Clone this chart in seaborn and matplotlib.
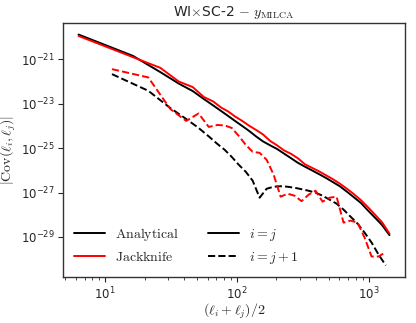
import numpy as np
import pandas as pd
import matplotlib
matplotlib.use("Agg")
import matplotlib.pyplot as plt
import seaborn as sns
from matplotlib.lines import Line2D

# bin centres (ell) of the diagonal
ell = [6.3, 16.3, 26.3, 36.3, 46.3, 56.3, 66.3, 76, 86, 97, 110, 124, 140, 158,
       179, 202, 228, 258, 291, 329, 372, 420, 475, 537, 606, 685, 774, 875,
       989, 1117, 1262, 1440]

# |Cov(l_i, l_j)| for i = j
analytic_diag = [1.33e-20, 1.45e-21, 2.69e-22, 8.17e-23, 3.76e-23, 1.64e-23,
                 8.39e-24, 4.75e-24, 2.83e-24, 1.69e-24, 1.00e-24, 5.99e-25,
                 3.39e-25, 2.02e-25, 1.34e-25, 9.20e-26, 5.72e-26, 3.52e-26,
                 2.18e-26, 1.46e-26, 9.95e-27, 6.78e-27, 4.53e-27, 2.93e-27,
                 1.90e-27, 1.09e-27, 6.08e-28, 3.37e-28, 1.55e-28, 7.37e-29,
                 3.46e-29, 1.20e-29]
jack_diag = [1.15e-20, 1.27e-21, 4.19e-22, 1.01e-22, 5.69e-23, 2.02e-23,
             1.27e-23, 6.82e-24, 4.51e-24, 2.69e-24, 1.69e-24, 1.03e-24,
             6.64e-25, 4.17e-25, 2.13e-25, 1.34e-25, 7.96e-26, 5.54e-26,
             3.48e-26, 1.87e-26, 1.30e-26, 9.06e-27, 5.99e-27, 3.96e-27,
             2.49e-27, 1.48e-27, 8.39e-28, 4.51e-28, 2.18e-28, 1.01e-28,
             4.62e-29, 1.41e-29]

# |Cov(l_i, l_j)| for i = j + 1
analytic_off = [2.18e-22, 3.88e-23, 6.47e-24, 2.07e-24, 8.17e-25, 3.39e-25,
                1.56e-25, 8.39e-26, 4.06e-26, 1.78e-26, 8.61e-27, 3.39e-27,
                5.84e-28, 1.48e-27, 1.82e-27, 1.92e-27, 1.82e-27, 1.64e-27,
                1.41e-27, 1.20e-27, 9.79e-28, 7.18e-28, 4.74e-28, 3.14e-28,
                1.69e-28, 8.17e-29, 3.96e-29, 1.56e-29, 5.54e-30, 1.60e-30,
                5.13e-31]
jack_off = [3.66e-22, 1.55e-22, 5.84e-24, 1.69e-24, 3.66e-24, 9.06e-25,
            1.11e-24, 1.06e-24, 8.17e-25, 3.57e-25, 1.41e-25, 6.82e-26,
            6.15e-26, 2.98e-26, 6.31e-27, 6.47e-28, 8.83e-28, 7.18e-28,
            4.06e-28, 7.96e-28, 1.20e-27, 3.86e-28, 5.84e-28, 6.47e-28,
            4.39e-29, 5.40e-29, 4.39e-29, 9.30e-30, 1.30e-30, 1.30e-30,
            2.07e-30]

ell_arr = np.array(ell)
ell_mid = 0.5 * (ell_arr[:-1] + ell_arr[1:])

sns.set_style("ticks")
plt.rcParams["mathtext.fontset"] = "cm"
plt.rcParams["font.family"] = ["DejaVu Sans"]
plt.rcParams["xtick.major.size"] = 3.5
plt.rcParams["ytick.major.size"] = 3.5
plt.rcParams["xtick.minor.size"] = 2.0
plt.rcParams["axes.edgecolor"] = "#333333"
plt.rcParams["axes.linewidth"] = 1.0
plt.rcParams["xtick.major.pad"] = 2.5
plt.rcParams["ytick.major.pad"] = 2.5

fig = plt.figure(figsize=(4.16, 3.23), dpi=100)
ax = fig.add_axes([0.1514, 0.1424, 0.8222, 0.7864])

df_diag = pd.DataFrame({"x": ell, "a": analytic_diag, "j": jack_diag})
df_off = pd.DataFrame({"x": ell_mid, "a": analytic_off, "j": jack_off})

lw = 1.4
sns.lineplot(data=df_diag, x="x", y="a", ax=ax, color="black", lw=lw,
             estimator=None, sort=False)
sns.lineplot(data=df_diag, x="x", y="j", ax=ax, color="red", lw=lw,
             estimator=None, sort=False)
sns.lineplot(data=df_off, x="x", y="a", ax=ax, color="black", lw=lw,
             linestyle="--", estimator=None, sort=False)
sns.lineplot(data=df_off, x="x", y="j", ax=ax, color="red", lw=lw,
             linestyle="--", estimator=None, sort=False)

ax.set_xscale("log")
ax.set_yscale("log")
ax.set_yticks([1e-29, 1e-27, 1e-25, 1e-23, 1e-21])
ax.yaxis.set_minor_locator(matplotlib.ticker.NullLocator())
ax.tick_params(labelsize=8.5)

ax.set_xlabel(r"$(\ell_i+\ell_j)/2$", fontsize=10, labelpad=0)
ax.set_ylabel(r"$|{\rm Cov}(\ell_i,\ell_j)|$", fontsize=10, labelpad=2)
ax.set_title(r"WI$\times$SC-2 $-\ y_{\rm MILCA}$", fontsize=10, pad=5)

handles = [Line2D([], [], color="black", lw=lw),
           Line2D([], [], color="red", lw=lw),
           Line2D([], [], color="black", lw=lw),
           Line2D([], [], color="black", lw=lw, linestyle="--")]
labels = [r"$\mathrm{Analytical}$", r"$\mathrm{Jackknife}$",
          r"$i=j$", r"$i=j+1$"]
ax.legend(handles, labels, ncol=2, loc="lower left", frameon=False,
          fontsize=10, handlelength=2.2, handletextpad=0.75,
          columnspacing=2.1, labelspacing=0.5, borderaxespad=0.4)

fig.savefig("out.png", dpi=100)
